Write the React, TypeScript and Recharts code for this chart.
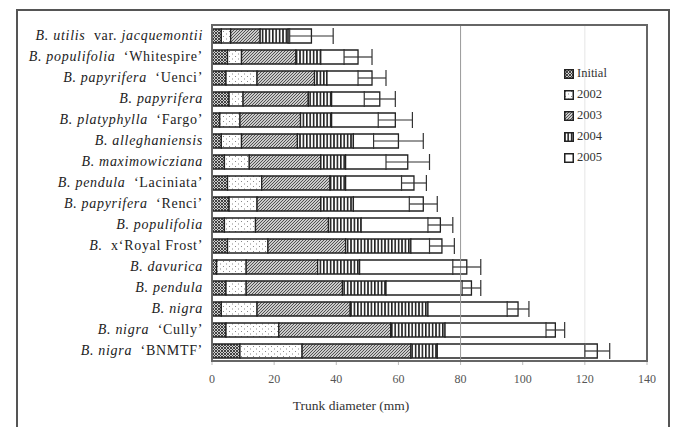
import React from 'react';
import { BarChart, Bar, XAxis, YAxis, ErrorBar, ReferenceLine } from 'recharts';

const categories = [
  'B. utilis  var. jacquemontii',
  'B. populifolia  ‘Whitespire’',
  'B. papyrifera  ‘Uenci’',
  'B. papyrifera',
  'B. platyphylla  ‘Fargo’',
  'B. alleghaniensis',
  'B. maximowicziana',
  'B. pendula  ‘Laciniata’',
  'B. papyrifera  ‘Renci’',
  'B. populifolia',
  'B.  x‘Royal Frost’',
  'B. davurica',
  'B. pendula',
  'B. nigra',
  'B. nigra  ‘Cully’',
  'B. nigra  ‘BNMTF’',
];

// cumulative trunk diameter (mm) at each measurement
const initialDiam = [3, 5, 4.5, 5.5, 2.5, 3, 4, 5, 5.5, 4, 5, 1.5, 4.5, 3, 4.5, 9];
const diam2002 = [6, 9.5, 14.5, 10, 9, 9.5, 12, 16, 14.5, 14, 18, 11, 11, 14.5, 21.5, 29];
const diam2003 = [15.5, 27, 33, 31, 28.5, 27.5, 35, 38, 35, 37.5, 43, 34, 42, 44.5, 57.5, 64];
const diam2004 = [24.5, 35, 37, 38.5, 38.5, 45.5, 43, 43, 45.5, 48, 64, 47.5, 56, 69.5, 75, 72.5];
const diam2005 = [32, 47, 51.5, 54, 59, 60, 63, 65, 68, 73.5, 74, 82, 83.5, 98.5, 110.5, 124];
const err2005 = [7, 4.5, 4.5, 5, 5.5, 8, 7, 4, 4.5, 4, 4, 4.5, 3, 3.5, 3, 4];

const xTicks = [0, 20, 40, 60, 80, 100, 120, 140];
const seriesNames = ['Initial', '2002', '2003', '2004', '2005'];
const seriesKeys = ['s0', 's1', 's2', 's3', 's4'];
const seriesFills = ['url(#pInit)', 'url(#p2002)', 'url(#p2003)', 'url(#p2004)', '#ffffff'];

const data = categories.map((name, i) => ({
  name,
  s0: initialDiam[i],
  s1: diam2002[i] - initialDiam[i],
  s2: diam2003[i] - diam2002[i],
  s3: diam2004[i] - diam2003[i],
  s4: diam2005[i] - diam2004[i],
  err: err2005[i],
}));

const FONT = '"Liberation Serif", "Times New Roman", serif';

const isUpright = (t: string) => t === 'var.' || t.includes('‘') || t.includes('’');

const SpeciesTick = (props: any) => {
  const { x, y, payload } = props;
  const tokens = String(payload.value).split(' ');
  return (
    <text x={x} y={y} dy={4.5} textAnchor="end" fontFamily={FONT} fontSize={14} letterSpacing={0.7} fill="#222" style={{ whiteSpace: 'pre' }}>
      {tokens.map((t: string, i: number) => (
        <tspan key={i} fontStyle={isUpright(t) ? 'normal' : 'italic'}>
          {(i > 0 ? '\u00a0' : '') + t}
        </tspan>
      ))}
    </text>
  );
};

const Patterns = () => (
  <svg width={0} height={0} style={{ position: 'absolute' }}>
    <defs>
      <pattern id="pInit" patternUnits="userSpaceOnUse" width={3} height={3}>
        <rect width={3} height={3} fill="#cfcfcf" />
        <path d="M0,0 L3,3 M3,0 L0,3" stroke="#333" strokeWidth={0.9} />
      </pattern>
      <pattern id="p2002" patternUnits="userSpaceOnUse" width={6} height={5}>
        <rect width={6} height={5} fill="#fff" />
        <rect x={1} y={1} width={1} height={1} fill="#888" />
        <rect x={4} y={3.5} width={1} height={1} fill="#888" />
      </pattern>
      <pattern id="p2003" patternUnits="userSpaceOnUse" width={3} height={3}>
        <rect width={3} height={3} fill="#cbcbcb" />
        <path d="M-1,1 L1,-1 M0,3 L3,0 M2,4 L4,2" stroke="#444" strokeWidth={0.9} />
      </pattern>
      <pattern id="p2004" patternUnits="userSpaceOnUse" width={3.4} height={4}>
        <rect width={3.4} height={4} fill="#fff" />
        <rect x={0} y={0} width={1.6} height={4} fill="#222" />
      </pattern>
    </defs>
  </svg>
);

export default function App() {
  return (
    <div style={{ position: 'fixed', left: 0, top: 0, width: 673, height: 427, overflow: 'hidden', background: '#fff' }}>
      <Patterns />
      <BarChart
        width={673}
        height={427}
        data={data}
        layout="vertical"
        margin={{ top: 25, right: 26, left: 12, bottom: 36 }}
        barSize={14}
      >
        <XAxis
          type="number"
          domain={[0, 140]}
          ticks={xTicks}
          axisLine={false}
          tickLine={{ stroke: '#bbb' }}
          tickSize={4}
          tickMargin={9}
          height={30}
          tick={{ fontFamily: FONT, fontSize: 12, fill: '#555' }}
        />
        <YAxis
          type="category"
          dataKey="name"
          width={200}
          axisLine={false}
          tickLine={false}
          tickSize={0}
          tickMargin={9}
          interval={0}
          tick={<SpeciesTick />}
        />
        <ReferenceLine x={80} stroke="#999" strokeWidth={1} />
        <ReferenceLine x={120} stroke="#e6e6e6" strokeWidth={1} />
        {seriesKeys.map((k, i) => (
          <Bar
            key={k}
            dataKey={k}
            name={seriesNames[i]}
            stackId="a"
            fill={seriesFills[i]}
            stroke="#222"
            strokeWidth={1.3}
            isAnimationActive={false}
          >
            {i === 4 ? (
              <ErrorBar dataKey="err" direction="x" width={8} stroke="#333" strokeWidth={1.2} isAnimationActive={false} />
            ) : null}
          </Bar>
        ))}
      </BarChart>
      {/* outer frame */}
      <div style={{ position: 'absolute', left: 16, top: 9, width: 654, height: 430, border: '2px solid #555', boxSizing: 'border-box', pointerEvents: 'none' }} />
      {/* plot frame */}
      <div style={{ position: 'absolute', left: 211, top: 24, width: 437, height: 338, border: '2px solid #666', boxSizing: 'border-box', pointerEvents: 'none' }} />
      {/* legend */}
      <div style={{ position: 'absolute', left: 564, top: 63, fontFamily: FONT, fontSize: 12.5, color: '#333' }}>
        {seriesNames.map((n, i) => (
          <div key={n} style={{ display: 'flex', alignItems: 'center', height: 21 }}>
            <svg width={10} height={10} style={{ marginRight: 3 }}>
              <rect x={0.75} y={0.75} width={8.5} height={8.5} fill={seriesFills[i]} stroke="#222" strokeWidth={1.5} />
            </svg>
            <span>{n}</span>
          </div>
        ))}
      </div>
      {/* axis title */}
      <div style={{ position: 'absolute', left: 351, top: 398, transform: 'translateX(-50%)', fontFamily: FONT, fontSize: 13.5, color: '#333', whiteSpace: 'nowrap' }}>
        Trunk diameter (mm)
      </div>
    </div>
  );
}
